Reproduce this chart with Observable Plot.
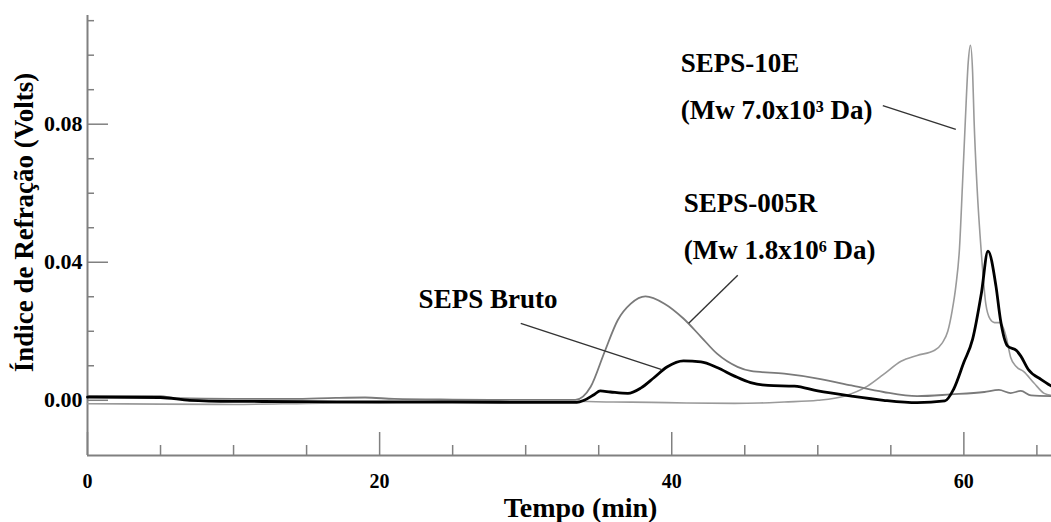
<!DOCTYPE html>
<html>
<head>
<meta charset="utf-8">
<script src="https://cdn.jsdelivr.net/npm/d3@7"></script>
<script src="https://cdn.jsdelivr.net/npm/@observablehq/plot@0.6"></script>
<style>
  html, body { margin: 0; padding: 0; background: #fff; }
  #chart svg { display: block; }
</style>
</head>
<body>
<div id="chart"></div>
<script>
// ---- Data ----
const sepsBruto = [
  [0,0.0009],[5,0.0008],[7,0.0],[10,-0.0003],[15,-0.0004],[20,-0.0005],[25,-0.0005],[30,-0.0006],[33.5,-0.0006],
  [34.0,0.0],[34.7,0.0017],[35.1,0.0027],[35.8,0.0024],[37.0,0.002],[37.9,0.0036],[38.8,0.0066],[39.7,0.0097],
  [40.8,0.0114],[42.0,0.0111],[43.1,0.0095],[44.3,0.007],[45.4,0.0051],[46.6,0.0043],[48.4,0.0041],[50.0,0.0027],
  [52.3,0.0012],[54.5,0.0],[56.8,-0.0007],[58.7,-0.0002],[59.3,0.0032],[60.0,0.011],[60.6,0.0177],[61.2,0.031],
  [61.65,0.0432],[62.2,0.033],[62.5,0.0235],[63.0,0.0157],[63.6,0.0144],[63.9,0.0128],[64.4,0.009],[65.3,0.006],[66,0.0041]
];
const seps005R = [
  [0,0.0013],[5,0.0012],[6,0.0006],[10,0.0004],[14,0.0004],[17,0.0007],[19,0.0008],[21,0.0004],[25,0.0002],[30,0.0001],
  [33.4,0.0001],[34.45,0.0039],[35.4,0.014],[36.3,0.0232],[37.2,0.028],[38.2,0.0301],[39.5,0.028],[40.8,0.0237],
  [42,0.0184],[43.1,0.0135],[44.5,0.0097],[45.4,0.0085],[47.7,0.0077],[50,0.0063],[52.3,0.0043],[54.5,0.0024],
  [56.8,0.0012],[59.1,0.0017],[61.4,0.0024],[62.4,0.003],[63.2,0.0021],[63.9,0.0027],[64.6,0.0014],[66,0.0012]
];
const seps10E = [
  [0,-0.0010],[5,-0.0011],[10,-0.0012],[15,-0.0009],[20,-0.0006],[25,-0.0004],[30,-0.0003],[33,-0.0003],[36,-0.0005],
  [38.6,-0.0006],[41,-0.0008],[44.3,-0.0009],[46,-0.0008],[47.7,-0.0005],[50,0.0],[51.8,0.0012],[53.4,0.0041],
  [54.5,0.0075],[55.7,0.0113],[56.8,0.013],[58,0.0145],[58.5,0.0165],[58.9,0.02],[59.2,0.026],[59.45,0.033],
  [59.7,0.044],[59.9,0.062],[60.1,0.081],[60.3,0.098],[60.45,0.1029],[60.6,0.095],[60.7,0.081],[60.9,0.062],
  [61.2,0.0425],[61.5,0.028],[61.8,0.0235],[62.1,0.0225],[62.5,0.0225],[62.9,0.0183],[63.2,0.0125],[63.6,0.0097],
  [64.1,0.0083],[64.8,0.005],[65.5,0.002],[66,0.0014]
];

const xDomain = [0, 66];
const yDomain = [-0.016, 0.1115];
const xMajorTicks = [0, 20, 40, 60];
const xMinorTicks = [5, 10, 15, 25, 30, 35, 45, 50, 55, 65];
const yMajorTicks = [0, 0.04, 0.08];
const yMinorTicks = [0.01, 0.02, 0.03, 0.05, 0.06, 0.07, 0.09, 0.10, 0.11];

const xLabel = "Tempo (min)";
const yLabel = "Índice de Refração (Volts)";

// annotation labels (data units)
const annText = ["SEPS-10E", "(Mw 7.0x10³ Da)", "SEPS-005R", "(Mw 1.8x10⁶ Da)", "SEPS Bruto"];
const annX = [40.62, 40.62, 40.82, 40.82, 22.67];
const annY = [0.0976, 0.0840, 0.0570, 0.0434, 0.0292];
// leader lines (data units)
const leadX1 = [54.45, 44.52, 29.66];
const leadY1 = [0.0854, 0.0362, 0.0223];
const leadX2 = [59.45, 41.16, 39.32];
const leadY2 = [0.0785, 0.0223, 0.0089];

// ---- Build ----
const W = 1051, H = 522, mL = 87, mR = 0, mT = 15, mB = 67;
const plotW = W - mL - mR, plotH = H - mT - mB;
const font = "'Liberation Serif', 'Times New Roman', serif";
const axisColor = "#808080";

const ann = annText.map((t, i) => ({t, x: annX[i], y: annY[i]}));
const leads = leadX1.map((x1, i) => ({x1, y1: leadY1[i], x2: leadX2[i], y2: leadY2[i]}));

const chart = Plot.plot({
  width: W, height: H,
  marginLeft: mL, marginRight: mR, marginTop: mT, marginBottom: mB,
  x: {domain: xDomain},
  y: {domain: yDomain},
  style: {fontFamily: font, fontWeight: "bold", color: "#000", background: "#fff", overflow: "visible"},
  marks: [
    // axis lines
    Plot.ruleX([xDomain[0]], {stroke: axisColor, strokeWidth: 2}),
    Plot.ruleY([yDomain[0]], {stroke: axisColor, strokeWidth: 2}),
    // ticks (inward)
    Plot.ruleX(xMajorTicks, {stroke: axisColor, strokeWidth: 1.5, insetTop: plotH - 23}),
    Plot.ruleX(xMinorTicks, {stroke: axisColor, strokeWidth: 1.5, insetTop: plotH - 10}),
    Plot.ruleY(yMajorTicks, {stroke: axisColor, strokeWidth: 1.5, insetRight: plotW - 21}),
    Plot.ruleY(yMinorTicks, {stroke: axisColor, strokeWidth: 1.5, insetRight: plotW - 7}),
    // tick labels
    Plot.axisX({ticks: xMajorTicks, tickSize: 0, tickPadding: 18, fontSize: 20, fontWeight: "bold", fill: "#000", label: null, tickFormat: d3.format("d")}),
    Plot.axisY({ticks: yMajorTicks, tickSize: 0, tickPadding: 5, fontSize: 22, fontWeight: "bold", fill: "#000", label: null, tickFormat: d3.format(".2f")}),
    // axis titles
    Plot.text([xLabel], {frameAnchor: "bottom", dx: 11, dy: 53, fontSize: 28, fontWeight: "bold", fill: "#000", textAnchor: "middle", lineAnchor: "middle"}),
    Plot.text([yLabel], {frameAnchor: "left", dx: -63, dy: -13, rotate: -90, fontSize: 27, fontWeight: "bold", fill: "#000", textAnchor: "middle", lineAnchor: "middle"}),
    // curves
    Plot.line(seps10E, {x: d => d[0], y: d => d[1], stroke: "#9a9a9a", strokeWidth: 1.6, curve: "monotone-x"}),
    Plot.line(seps005R, {x: d => d[0], y: d => d[1], stroke: "#7a7a7a", strokeWidth: 1.8, curve: "monotone-x"}),
    Plot.line(sepsBruto, {x: d => d[0], y: d => d[1], stroke: "#000", strokeWidth: 2.8, curve: "monotone-x"}),
    // leader lines
    Plot.link(leads, {x1: "x1", y1: "y1", x2: "x2", y2: "y2", stroke: "#333", strokeWidth: 1.4}),
    // annotation labels
    Plot.text(ann, {x: "x", y: "y", text: "t", textAnchor: "start", lineAnchor: "middle", fontSize: 27, fontWeight: "bold", fill: "#000"})
  ]
});
document.getElementById("chart").appendChild(chart);
</script>
</body>
</html>
